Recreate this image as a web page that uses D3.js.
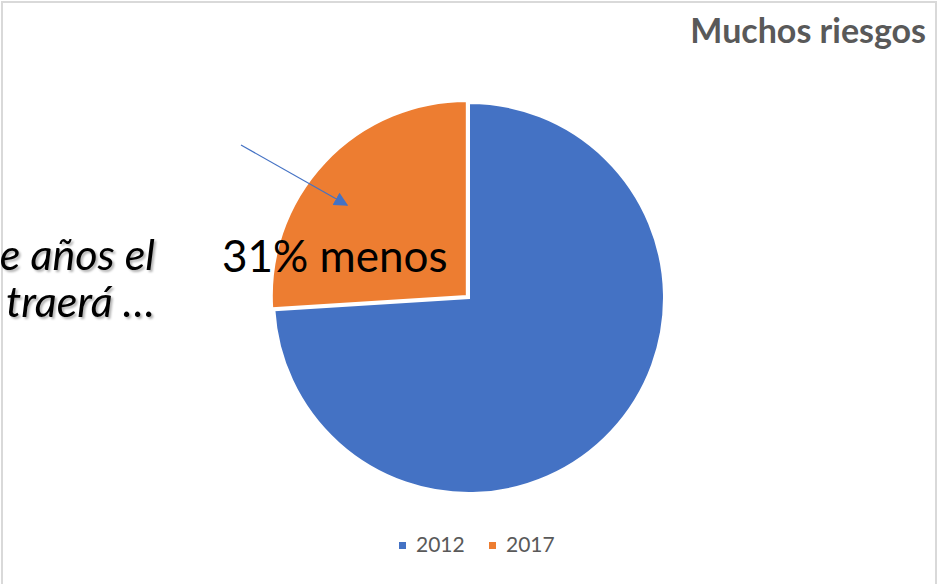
<!DOCTYPE html>
<html>
<head>
<meta charset="utf-8">
<script src="https://cdn.jsdelivr.net/npm/d3@7"></script>
<style>
  html, body { margin: 0; padding: 0; background: #fff; }
  svg { display: block; font-family: Lato, "Open Sans", sans-serif; }
</style>
</head>
<body>
<svg id="chart" width="942" height="584"></svg>
<script>
const years = ["2012", "2017"];
const shares = [74, 26];
const colors = ["#4472C4", "#ED7D31"];
const title = "Muchos riesgos";
const sideLines = ["e años el", "traerá …"];
const calloutText = "31% menos";

const svg = d3.select("#chart");

// chart frame (only partly visible in the crop)
svg.append("path")
    .attr("d", "M2,584 V2 H936 V584")
    .attr("fill", "none")
    .attr("stroke", "#d9d9d9")
    .attr("stroke-width", 2);

svg.append("text")
    .attr("x", 926)
    .attr("y", 43)
    .attr("text-anchor", "end")
    .attr("font-size", "34px")
    .attr("font-weight", "bold")
    .attr("fill", "#595959")
    .text(title);

// pie
const cx = 469, cy = 298, r = 195;
const pie = d3.pie().sort(null).value(d => d)(shares);
const arc = d3.arc().innerRadius(0).outerRadius(r);
const explode = [0, 3];

const g = svg.append("g").attr("transform", `translate(${cx},${cy})`);
g.selectAll("path")
    .data(pie)
    .join("path")
    .attr("d", arc)
    .attr("fill", (d, i) => colors[i])
    .attr("stroke", "#fff")
    .attr("stroke-width", 2)
    .attr("transform", (d, i) => {
        const mid = (d.startAngle + d.endAngle) / 2;
        return `translate(${Math.sin(mid) * explode[i]},${-Math.cos(mid) * explode[i]})`;
    });

// side text (cut off at the left edge)
const shadow = svg.append("defs").append("filter").attr("id", "shadow");
shadow.append("feDropShadow")
    .attr("dx", 2).attr("dy", 2).attr("stdDeviation", 1.2)
    .attr("flood-color", "#000").attr("flood-opacity", 0.3);

svg.selectAll(".side")
    .data(sideLines)
    .join("text")
    .attr("class", "side")
    .attr("x", 155)
    .attr("y", (d, i) => 270 + i * 47)
    .attr("text-anchor", "end")
    .attr("font-size", "43px")
    .attr("font-style", "italic")
    .attr("fill", "#000")
    .attr("filter", "url(#shadow)")
    .text(d => d);

// callout arrow and label
const marker = svg.select("defs").append("marker")
    .attr("id", "head")
    .attr("viewBox", "0 0 10 10")
    .attr("refX", 9).attr("refY", 5)
    .attr("markerWidth", 14).attr("markerHeight", 14)
    .attr("markerUnits", "userSpaceOnUse")
    .attr("orient", "auto");
marker.append("path").attr("d", "M0,0 L10,5 L0,10 Z").attr("fill", "#4472C4");

svg.append("line")
    .attr("x1", 241).attr("y1", 145)
    .attr("x2", 347).attr("y2", 205)
    .attr("stroke", "#4472C4")
    .attr("stroke-width", 1.2)
    .attr("marker-end", "url(#head)");

svg.append("text")
    .attr("x", 222)
    .attr("y", 272)
    .attr("font-size", "44px")
    .attr("fill", "#000")
    .text(calloutText);

// legend
const legend = svg.append("g").attr("transform", "translate(399,552)");
const item = legend.selectAll("g")
    .data(years)
    .join("g")
    .attr("transform", (d, i) => `translate(${i * 90},0)`);
item.append("rect")
    .attr("x", 0).attr("y", -10)
    .attr("width", 7).attr("height", 7)
    .attr("fill", (d, i) => colors[i]);
item.append("text")
    .attr("x", 17)
    .attr("y", 0)
    .attr("font-size", "21px")
    .attr("fill", "#595959")
    .text(d => d);
</script>
</body>
</html>
